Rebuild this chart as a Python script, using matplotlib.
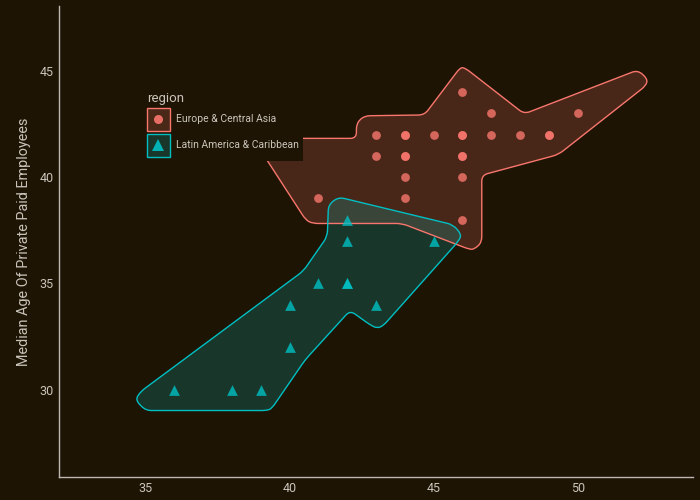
import matplotlib
matplotlib.use("Agg")
import numpy as np
import matplotlib.pyplot as plt
from matplotlib.path import Path
from matplotlib.patches import PathPatch, Rectangle
from matplotlib.lines import Line2D
from matplotlib.legend_handler import HandlerBase

# median age of workforce vs median age of private paid employees
eu_x = [46, 47, 50, 43, 44, 44, 45, 46, 46, 47, 48, 49, 49, 43, 44, 44, 46, 46, 44, 46, 41, 44, 46]
eu_y = [44, 43, 43, 42, 42, 42, 42, 42, 42, 42, 42, 42, 42, 41, 41, 41, 41, 41, 40, 40, 39, 39, 38]

la_x = [42, 42, 45, 41, 42, 42, 40, 43, 40, 36, 38, 39]
la_y = [38, 37, 37, 35, 35, 35, 34, 34, 32, 30, 30, 30]

# hull outlines (data units)
eu_hull_x = [45.93, 46.11, 48.14, 52.08, 52.42, 52.37, 49.33, 46.67, 46.67, 46.41, 46.23,
             43.90, 40.80, 40.56, 38.73, 42.32, 42.32, 42.59, 44.68]
eu_hull_y = [45.16, 45.11, 42.97, 45.03, 44.62, 44.30, 41.06, 40.09, 36.93, 36.61, 36.61,
             37.82, 37.82, 37.99, 41.82, 41.82, 42.52, 42.88, 42.92]

la_hull_x = [41.35, 41.70, 45.68, 45.97, 45.85, 43.25, 43.03, 42.79, 42.10, 40.54, 39.39,
             39.22, 35.00, 34.65, 34.83, 40.48, 41.31]
la_hull_y = [38.70, 39.06, 37.76, 37.29, 36.97, 33.01, 32.90, 33.06, 33.73, 31.41, 29.14,
             29.03, 29.03, 29.53, 29.92, 35.59, 37.21]

regions = ["Europe & Central Asia", "Latin America & Caribbean"]
x_ticks = [35, 40, 45, 50]
y_ticks = [30, 35, 40, 45]

BG = "#1e1403"
RED = "#F8766D"
TEAL = "#00BFC4"
TXT = "#c9c4bb"

plt.rcParams["font.family"] = ["Roboto", "DejaVu Sans"]


def rounded_path(ax, xs, ys, r=6.0):
    # soften the hull corners (radius in pixels)
    pts = ax.transData.transform(np.column_stack([xs, ys]))
    n = len(pts)
    verts, codes = [], []
    for i in range(n):
        p0, p1, p2 = pts[i - 1], pts[i], pts[(i + 1) % n]
        d0, d2 = p0 - p1, p2 - p1
        l0, l2 = np.hypot(*d0), np.hypot(*d2)
        a = p1 + d0 / l0 * min(r, 0.45 * l0)
        b = p1 + d2 / l2 * min(r, 0.45 * l2)
        verts.append(a)
        codes.append(Path.MOVETO if i == 0 else Path.LINETO)
        verts += [p1, b]
        codes += [Path.CURVE3, Path.CURVE3]
    verts.append(verts[0])
    codes.append(Path.CLOSEPOLY)
    verts = ax.transData.inverted().transform(np.array(verts))
    return Path(verts, codes)


class KeyHandler(HandlerBase):
    def __init__(self, marker, color, face, ms):
        super().__init__()
        self.marker, self.color, self.face, self.ms = marker, color, face, ms

    def create_artists(self, legend, orig_handle, xdescent, ydescent, width, height,
                       fontsize, trans):
        box = Rectangle((-xdescent, -ydescent), width, height, facecolor=self.face,
                        edgecolor=self.color, lw=1.0, transform=trans)
        mk = Line2D([width / 2 - xdescent], [height / 2 - ydescent], marker=self.marker,
                    ls="", color=self.color, alpha=0.9, markersize=self.ms,
                    markeredgewidth=0, transform=trans)
        return [box, mk]


fig = plt.figure(figsize=(7, 5), dpi=100, facecolor=BG)
ax = fig.add_axes([0.0843, 0.0466, 0.9057, 0.9414], facecolor=BG)
ax.set_xlim(32, 54)
ax.set_ylim(25.92, 48.04)

for hx, hy, col in [(eu_hull_x, eu_hull_y, RED), (la_hull_x, la_hull_y, TEAL)]:
    p = rounded_path(ax, hx, hy)
    ax.add_patch(PathPatch(p, facecolor=col, alpha=0.2, edgecolor="none", zorder=1))
    ax.add_patch(PathPatch(p, facecolor="none", edgecolor=col, lw=1.0, zorder=2))

ax.scatter(eu_x, eu_y, s=40, marker="o", color=RED, alpha=0.8, linewidths=0, zorder=3)
ax.scatter(la_x, la_y, s=60, marker="^", color=TEAL, alpha=0.8, linewidths=0, zorder=3)

ax.set_xticks(x_ticks)
ax.set_yticks(y_ticks)
ax.tick_params(length=0, colors=TXT, labelsize=9, pad=4)
for s in ["top", "right"]:
    ax.spines[s].set_visible(False)
for s in ["left", "bottom"]:
    ax.spines[s].set_color("#bdb9b2")
    ax.spines[s].set_linewidth(1.0)

ax.set_ylabel("Median Age Of Private Paid Employees", color=TXT, fontsize=10.4, labelpad=6)

h_eu = Rectangle((0, 0), 1, 1)
h_la = Rectangle((0, 0), 1, 1)
leg = ax.legend([h_eu, h_la], regions,
                handler_map={h_eu: KeyHandler("o", RED, "#4a2818", 6.5),
                             h_la: KeyHandler("^", TEAL, "#183629", 8)},
                title="region", loc="upper left", bbox_to_anchor=(0.131, 0.828),
                fontsize=7.5, title_fontsize=9.5, handlelength=2.2, handleheight=3.0,
                handletextpad=0.6, labelspacing=0.3, borderpad=0.45, borderaxespad=0,
                frameon=True, facecolor=BG, edgecolor="none", framealpha=1,
                alignment="left", fancybox=False)
leg.get_title().set_color(TXT)
for t in leg.get_texts():
    t.set_color(TXT)
leg.set_zorder(5)

fig.savefig("out.png", dpi=100, facecolor=BG)
